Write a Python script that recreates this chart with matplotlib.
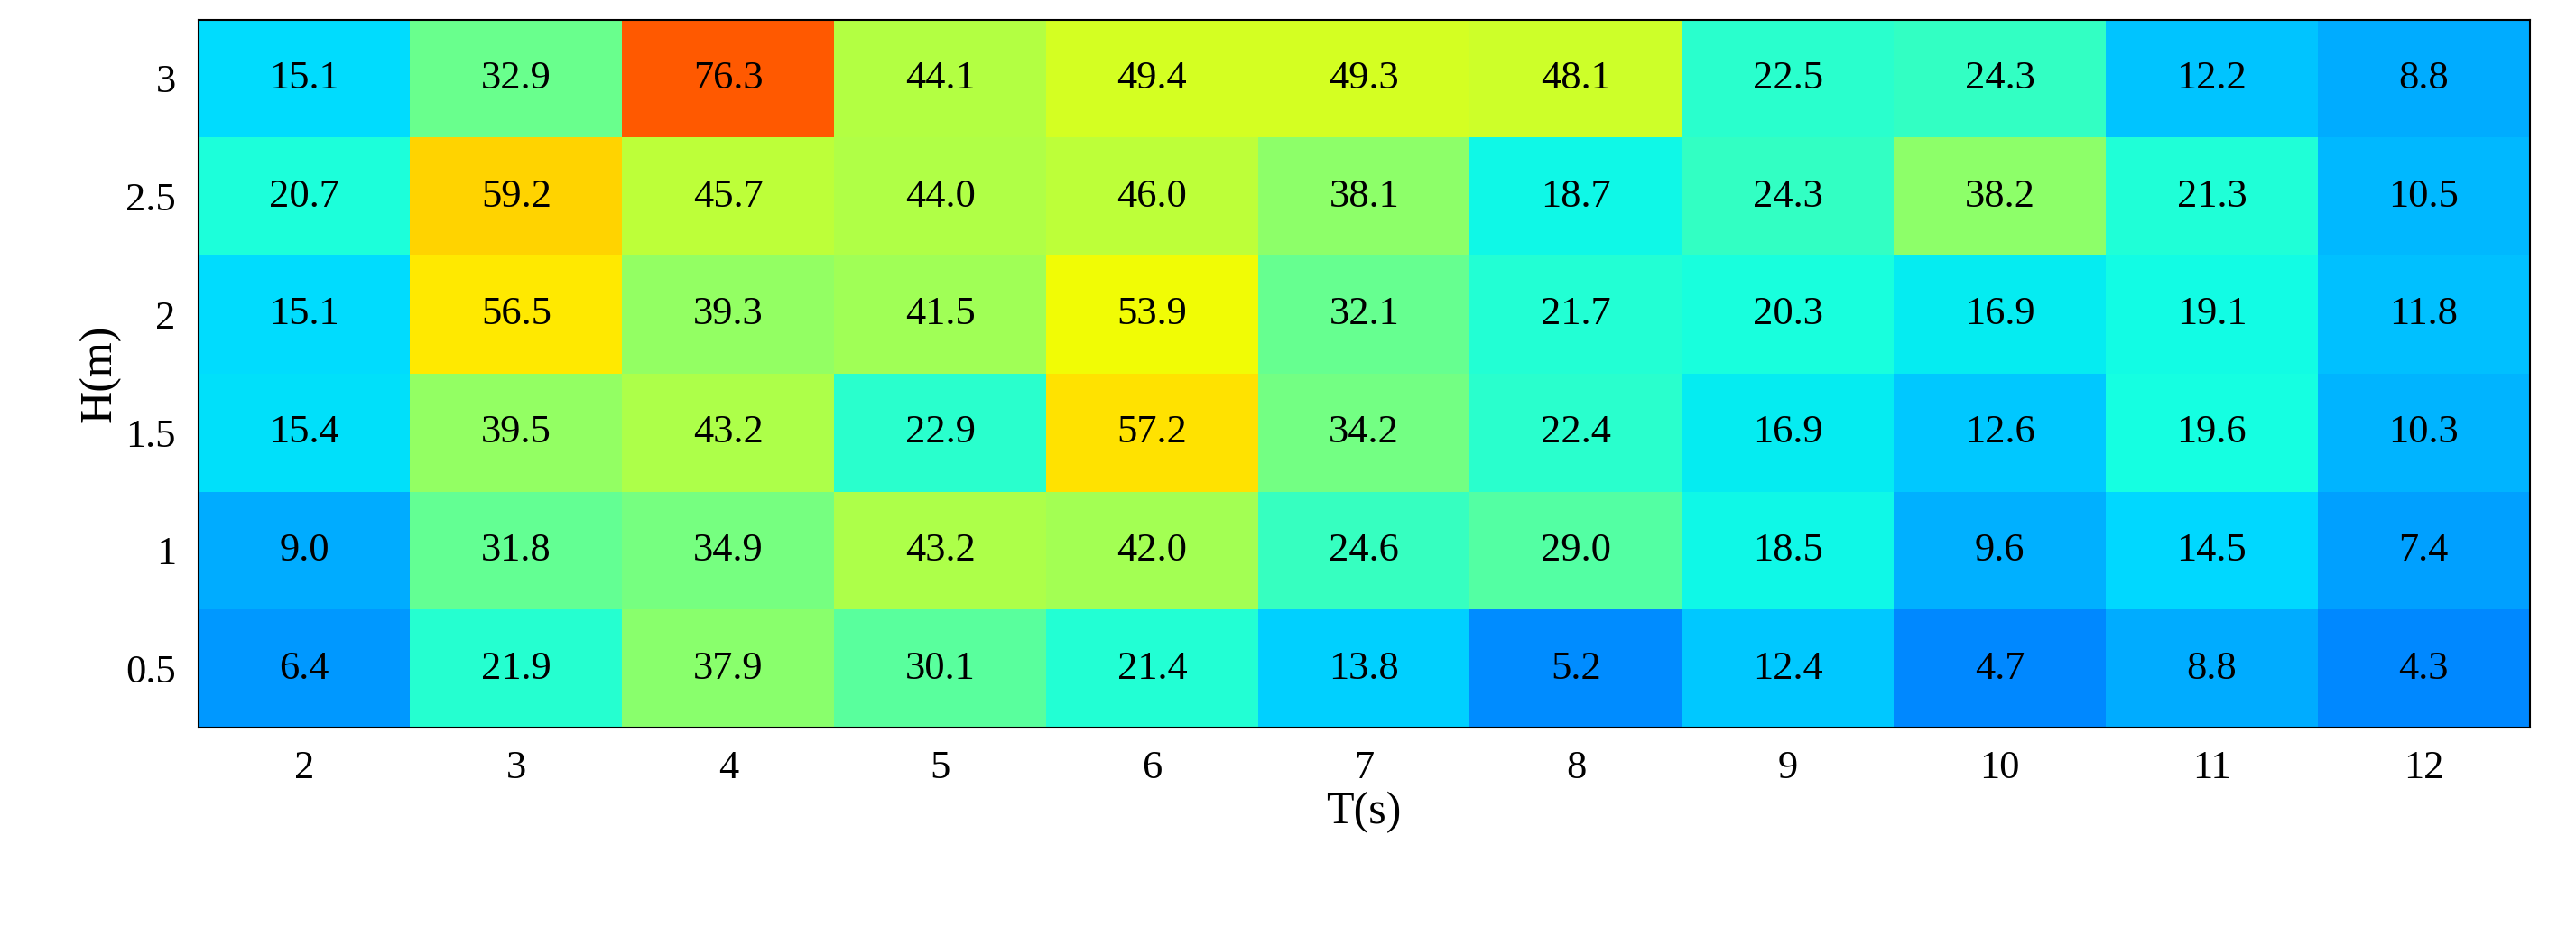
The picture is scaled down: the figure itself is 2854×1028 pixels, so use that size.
import matplotlib
matplotlib.use("Agg")
import matplotlib.pyplot as plt
import numpy as np

T = [2, 3, 4, 5, 6, 7, 8, 9, 10, 11, 12]
H = ["0.5", "1", "1.5", "2", "2.5", "3"]
# rows from H=0.5 up to H=3
vals = [
    [6.4, 21.9, 37.9, 30.1, 21.4, 13.8, 5.2, 12.4, 4.7, 8.8, 4.3],
    [9.0, 31.8, 34.9, 43.2, 42.0, 24.6, 29.0, 18.5, 9.6, 14.5, 7.4],
    [15.4, 39.5, 43.2, 22.9, 57.2, 34.2, 22.4, 16.9, 12.6, 19.6, 10.3],
    [15.1, 56.5, 39.3, 41.5, 53.9, 32.1, 21.7, 20.3, 16.9, 19.1, 11.8],
    [20.7, 59.2, 45.7, 44.0, 46.0, 38.1, 18.7, 24.3, 38.2, 21.3, 10.5],
    [15.1, 32.9, 76.3, 44.1, 49.4, 49.3, 48.1, 22.5, 24.3, 12.2, 8.8],
]
Z = np.array(vals)

plt.rcParams['font.family'] = ['Liberation Serif', 'DejaVu Serif']
fig = plt.figure(figsize=(28.54, 10.28), dpi=100)
ax = fig.add_axes([0.077, 0.216, 0.905, 0.763])
ax.imshow(Z, cmap='jet', vmin=-29, vmax=100, origin='lower', aspect='auto')
for i in range(Z.shape[0]):
    for j in range(Z.shape[1]):
        ax.text(j, i, f"{Z[i, j]:.1f}", ha='center', va='center', fontsize=32)
ax.set_xticks(range(len(T)))
ax.set_xticklabels([str(t) for t in T])
ax.set_yticks(range(len(H)))
ax.set_yticklabels(H)
ax.tick_params(labelsize=32, length=0, pad=18)
ax.set_xlabel("T(s)", fontsize=36)
ax.set_ylabel("H(m)", fontsize=36)
for s in ax.spines.values():
    s.set_linewidth(1.5)
fig.savefig("out.png", dpi=100)
